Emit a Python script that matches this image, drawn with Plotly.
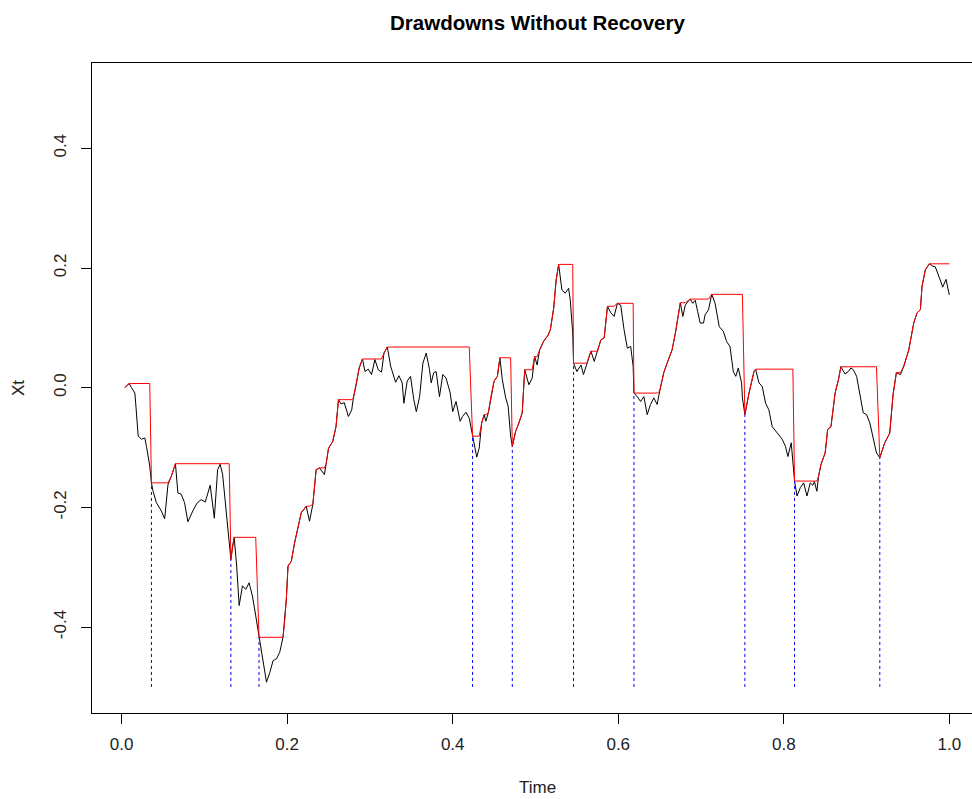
import plotly.graph_objects as go

# ---- data ----
time = [
    0.004, 0.009, 0.012, 0.016, 0.017, 0.020, 0.024, 0.028, 0.030, 0.034,
    0.036, 0.038, 0.042, 0.048, 0.052, 0.056, 0.060, 0.065, 0.068, 0.072,
    0.076, 0.080, 0.086, 0.091, 0.096, 0.101, 0.107, 0.112, 0.116, 0.119,
    0.122, 0.126, 0.130, 0.132, 0.134, 0.136, 0.139, 0.142, 0.146, 0.150,
    0.154, 0.158, 0.162, 0.166, 0.170, 0.175, 0.179, 0.183, 0.187, 0.191,
    0.195, 0.197, 0.199, 0.201, 0.205, 0.209, 0.213, 0.217, 0.223, 0.227,
    0.231, 0.235, 0.239, 0.245, 0.247, 0.250, 0.255, 0.259, 0.262, 0.265,
    0.269, 0.274, 0.278, 0.280, 0.283, 0.287, 0.291, 0.294, 0.298, 0.302,
    0.306, 0.310, 0.314, 0.317, 0.321, 0.325, 0.331, 0.335, 0.339, 0.341,
    0.345, 0.349, 0.353, 0.356, 0.360, 0.364, 0.368, 0.372, 0.374, 0.377,
    0.380, 0.384, 0.388, 0.392, 0.397, 0.400, 0.404, 0.409, 0.412, 0.416,
    0.420, 0.424, 0.427, 0.429, 0.432, 0.435, 0.438, 0.440, 0.443, 0.447,
    0.450, 0.454, 0.457, 0.460, 0.464, 0.467, 0.470, 0.472, 0.476, 0.480,
    0.484, 0.487, 0.492, 0.496, 0.499, 0.502, 0.505, 0.510, 0.515, 0.518,
    0.522, 0.525, 0.528, 0.532, 0.536, 0.540, 0.542, 0.545, 0.546, 0.550,
    0.555, 0.558, 0.562, 0.567, 0.571, 0.575, 0.579, 0.583, 0.587, 0.591,
    0.595, 0.599, 0.603, 0.607, 0.611, 0.615, 0.618, 0.619, 0.623, 0.627,
    0.631, 0.635, 0.639, 0.643, 0.647, 0.650, 0.655, 0.659, 0.665, 0.669,
    0.673, 0.675, 0.678, 0.681, 0.686, 0.687, 0.690, 0.693, 0.696, 0.699,
    0.703, 0.705, 0.709, 0.713, 0.717, 0.719, 0.722, 0.727, 0.731, 0.735,
    0.737, 0.739, 0.742, 0.745, 0.749, 0.750, 0.753, 0.758, 0.764, 0.766,
    0.770, 0.774, 0.778, 0.782, 0.786, 0.792, 0.798, 0.802, 0.805, 0.809,
    0.811, 0.813, 0.816, 0.820, 0.824, 0.828, 0.832, 0.835, 0.837, 0.840,
    0.842, 0.845, 0.850, 0.853, 0.857, 0.860, 0.862, 0.866, 0.869, 0.874,
    0.878, 0.881, 0.884, 0.888, 0.892, 0.896, 0.900, 0.904, 0.908, 0.912,
    0.916, 0.922, 0.928, 0.932, 0.936, 0.941, 0.945, 0.951, 0.957, 0.961,
    0.965, 0.967, 0.971, 0.976, 0.980, 0.983, 0.989, 0.992, 0.996, 1.000,
]

xt = [
    0.000, 0.007, 0.000, -0.009, -0.026, -0.081, -0.086, -0.084, -0.098, -0.131,
    -0.159, -0.173, -0.192, -0.206, -0.219, -0.162, -0.148, -0.127, -0.176, -0.178,
    -0.192, -0.224, -0.206, -0.193, -0.187, -0.191, -0.163, -0.218, -0.137, -0.128,
    -0.145, -0.203, -0.265, -0.287, -0.265, -0.250, -0.298, -0.364, -0.331, -0.337,
    -0.326, -0.348, -0.381, -0.417, -0.448, -0.492, -0.476, -0.456, -0.453, -0.442,
    -0.417, -0.390, -0.353, -0.298, -0.290, -0.259, -0.231, -0.209, -0.198, -0.223,
    -0.195, -0.137, -0.134, -0.145, -0.128, -0.101, -0.090, -0.065, -0.020, -0.027,
    -0.025, -0.048, -0.037, -0.017, 0.002, 0.033, 0.048, 0.027, 0.031, 0.022,
    0.047, 0.030, 0.026, 0.058, 0.068, 0.036, 0.009, 0.020, 0.008, -0.026,
    0.011, 0.019, -0.020, -0.040, -0.015, 0.041, 0.058, 0.030, 0.008, 0.025,
    0.027, -0.015, 0.022, 0.016, -0.009, -0.040, -0.023, -0.056, -0.048, -0.041,
    -0.051, -0.081, -0.101, -0.116, -0.101, -0.059, -0.045, -0.056, -0.042, -0.009,
    0.011, 0.019, 0.050, 0.013, -0.017, -0.031, -0.081, -0.098, -0.073, -0.059,
    -0.042, 0.030, 0.005, 0.016, 0.052, 0.038, 0.063, 0.078, 0.087, 0.097,
    0.133, 0.180, 0.206, 0.163, 0.158, 0.166, 0.147, 0.091, 0.041, 0.027,
    0.038, 0.022, 0.040, 0.061, 0.044, 0.061, 0.080, 0.083, 0.136, 0.125,
    0.119, 0.141, 0.138, 0.097, 0.066, 0.069, 0.036, -0.009, -0.015, -0.023,
    -0.015, -0.045, -0.028, -0.017, -0.028, -0.006, 0.025, 0.041, 0.063, 0.091,
    0.130, 0.142, 0.119, 0.138, 0.147, 0.148, 0.141, 0.146, 0.127, 0.108,
    0.108, 0.122, 0.130, 0.156, 0.141, 0.125, 0.102, 0.094, 0.077, 0.069,
    0.047, 0.027, 0.019, 0.033, 0.008, -0.017, -0.045, -0.009, 0.027, 0.031,
    0.008, 0.002, -0.026, -0.037, -0.065, -0.076, -0.086, -0.098, -0.115, -0.092,
    -0.123, -0.156, -0.181, -0.167, -0.159, -0.181, -0.159, -0.163, -0.157, -0.173,
    -0.148, -0.128, -0.109, -0.070, -0.065, -0.034, -0.009, 0.013, 0.035, 0.023,
    0.027, 0.033, 0.030, 0.019, -0.009, -0.042, -0.045, -0.059, -0.084, -0.109,
    -0.117, -0.092, -0.076, -0.012, 0.025, 0.022, 0.036, 0.063, 0.108, 0.125,
    0.130, 0.169, 0.197, 0.207, 0.203, 0.202, 0.180, 0.168, 0.181, 0.155,
]

# times at which a drawdown is flagged (blue dotted markers)
event_times = [0.036, 0.132, 0.166, 0.424, 0.472, 0.546, 0.619, 0.753, 0.813, 0.916]

x_ticks = [0.0, 0.2, 0.4, 0.6, 0.8, 1.0]
x_tick_labels = ["0.0", "0.2", "0.4", "0.6", "0.8", "1.0"]
y_ticks = [-0.4, -0.2, 0.0, 0.2, 0.4]
y_tick_labels = ["-0.4", "-0.2", "0.0", "0.2", "0.4"]
y_floor = -0.5

# ---- derived: running maximum that resets at each drawdown event ----
event_idx = set(min(range(len(time)), key=lambda i: abs(time[i] - te)) for te in event_times)
running = []
cur = None
for i, v in enumerate(xt):
    if cur is None or i in event_idx:
        cur = v
    else:
        cur = max(cur, v)
    running.append(cur)

blue_x, blue_y = [], []
for i in sorted(event_idx):
    blue_x += [time[i], time[i], None]
    blue_y += [y_floor, xt[i], None]

FONT = "Liberation Sans, Arial, sans-serif"

fig = go.Figure()
fig.add_trace(go.Scatter(x=time, y=xt, mode="lines",
                         line=dict(color="black", width=1), showlegend=False))
fig.add_trace(go.Scatter(x=time, y=running, mode="lines",
                         line=dict(color="#FF0000", width=1), showlegend=False))
fig.add_trace(go.Scatter(x=blue_x, y=blue_y, mode="lines",
                         line=dict(color="#0000FF", width=1, dash="dot"),
                         showlegend=False))

fig.update_layout(
    width=972, height=799,
    margin=dict(l=92, r=0, t=63, b=86),
    paper_bgcolor="white", plot_bgcolor="white",
    font=dict(family=FONT, size=17, color="black"),
    xaxis=dict(range=[-0.0358, 1.0274], showgrid=False, zeroline=False,
               showline=True, linecolor="black", linewidth=1, mirror=True,
               ticks="outside", ticklen=10, tickwidth=1, tickcolor="black",
               tickvals=x_ticks, ticktext=x_tick_labels,
               tickfont=dict(family=FONT, size=17, color="#222"),
               ticklabelstandoff=6),
    yaxis=dict(range=[-0.5435, 0.5425], showgrid=False, zeroline=False,
               showline=True, linecolor="black", linewidth=1, mirror=False,
               ticks="outside", ticklen=10, tickwidth=1, tickcolor="black",
               tickvals=y_ticks, ticktext=y_tick_labels, tickangle=-90,
               tickfont=dict(family=FONT, size=17, color="#222"),
               ticklabelstandoff=8),
    annotations=[
        dict(text="<b>Drawdowns Without Recovery</b>", x=(537 - 92) / 880, y=1 + (63 - 22) / 650,
             xref="paper", yref="paper", showarrow=False, xanchor="center", yanchor="middle",
             font=dict(family=FONT, size=20.5, color="black")),
        dict(text="Time", x=(537 - 92) / 880, y=(713 - 787) / 650,
             xref="paper", yref="paper", showarrow=False, xanchor="center", yanchor="middle",
             font=dict(family=FONT, size=17, color="#222")),
        dict(text="Xt", x=(18 - 92) / 880, y=0.5, textangle=-90,
             xref="paper", yref="paper", showarrow=False, xanchor="center", yanchor="middle",
             font=dict(family=FONT, size=17, color="#222")),
    ],
)

fig.write_html("out.html",
               config={"displayModeBar": False},
               post_script="document.body.style.margin='0';document.body.style.padding='0';")
